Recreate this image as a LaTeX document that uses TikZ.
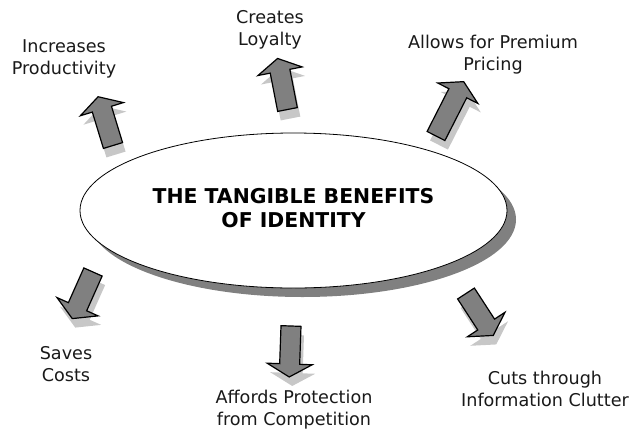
\documentclass[tikz,border=0pt]{standalone}
\usepackage{fontspec}
\setmainfont{DejaVu Sans}
\usetikzlibrary{shapes.geometric}
\begin{document}
\begin{tikzpicture}[x=1pt,y=-1pt,
  label/.style={font=\fontsize{17.6}{22}\selectfont, align=center, inner sep=0pt, text=black!90},
  title/.style={font=\fontsize{20.4}{24}\selectfont\bfseries, align=center, inner sep=0pt},
  bshadow/.pic={\fill[black!22] (0,-10) -- (#1-13,-10) -- (#1-13,-22.5) -- (#1,0) -- (#1-13,22.5) -- (#1-13,10) -- (0,10) -- cycle;},
  bbody/.pic={\filldraw[fill=black!50, draw=black, line width=1.2pt, line join=miter] (0,-10) -- (#1-13,-10) -- (#1-13,-22.5) -- (#1,0) -- (#1-13,22.5) -- (#1-13,10) -- (0,10) -- cycle;}
]
\useasboundingbox (0,0) rectangle (632,432);
\newcommand{\blockarrow}[4]{%
  \pic[rotate=#3] at (#1+3,#2+9) {bshadow=#4};
  \pic[rotate=#3] at (#1,#2) {bbody=#4};}
% ellipse with shadow
\fill[black!50] (302.5,219.5) ellipse [x radius=213.5, y radius=77.5];
\node[draw=black, line width=0.8pt, fill=white, shape=ellipse, minimum width=427, minimum height=155, inner sep=0pt] (core) at (293.5,210.5) {};
\node[title] (ttl) at (293.5,208.5) {THE TANGIBLE BENEFITS\\OF IDENTITY};
% arrows
\blockarrow{113}{145.5}{107}{51}
\blockarrow{287.5}{109.5}{101}{52}
\blockarrow{436}{136}{63}{61}
\blockarrow{93}{272}{246}{51}
\blockarrow{291}{326}{268}{51}
\blockarrow{466}{293.5}{303}{50}
% labels
\node[label] (prod) at (64,59) {Increases\\Productivity};
\node[label] (loy) at (270,30) {Creates\\Loyalty};
\node[label] (prem) at (493,55) {Allows for Premium\\Pricing};
\node[label] (cost) at (66,364) {Saves\\Costs};
\node[label] (comp) at (294,410) {Affords Protection\\from Competition};
\node[label] (clut) at (545,389) {Cuts through\\Information Clutter};
\end{tikzpicture}
\end{document}
